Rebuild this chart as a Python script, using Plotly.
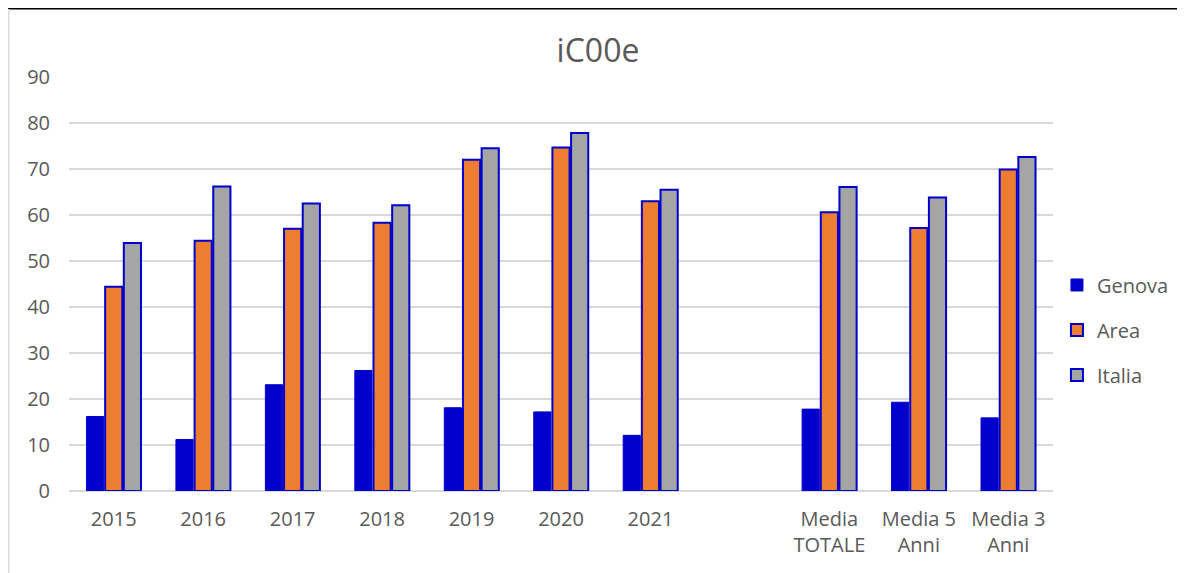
import plotly.graph_objects as go

categories = ["2015", "2016", "2017", "2018", "2019", "2020", "2021", " ",
              "Media<br>TOTALE", "Media 5<br>Anni", "Media 3<br>Anni"]
genova = [16.2, 11.2, 23.1, 26.2, 18.1, 17.2, 12.1, None, 17.8, 19.3, 15.9]
area = [44.4, 54.4, 57.0, 58.3, 72.0, 74.7, 63.0, None, 60.6, 57.2, 69.9]
italia = [53.9, 66.2, 62.5, 62.1, 74.5, 77.8, 65.5, None, 66.1, 63.8, 72.6]
y_ticks = [0, 10, 20, 30, 40, 50, 60, 70, 80, 90]

FONT = "Open Sans"
TXT = "#595959"
BLUE = "#0000CC"

W, H = 1177, 565
L, R, T, B = 61, 131, 69, 82
PW, PH = W - L - R, H - T - B

fig = go.Figure()
fig.add_trace(go.Bar(name="Genova", x=categories, y=genova, legendgroup="g",
                     marker=dict(color=BLUE, line=dict(color=BLUE, width=1))))
fig.add_trace(go.Bar(name="Area", x=categories, y=area, legendgroup="a",
                     marker=dict(color="#ED7D31", line=dict(color=BLUE, width=2))))
fig.add_trace(go.Bar(name="Italia", x=categories, y=italia, legendgroup="i",
                     marker=dict(color="#A5A5A5", line=dict(color=BLUE, width=2))))

fig.update_layout(
    width=W, height=H,
    margin=dict(l=L, r=R, t=T, b=B),
    paper_bgcolor="white", plot_bgcolor="white",
    title=dict(text="iC00e", x=590 / W, xanchor="center", y=1 - 43 / H, yanchor="middle",
               font=dict(family=FONT, size=32, color=TXT)),
    barmode="group", bargap=0.374, bargroupgap=0.08,
    font=dict(family=FONT, size=20, color=TXT),
    legend=dict(x=1.003, xanchor="left", y=0.389, yanchor="middle",
                font=dict(family=FONT, size=20, color=TXT),
                traceorder="grouped", tracegroupgap=16, itemwidth=30),
    xaxis=dict(type="category", showgrid=False, showline=False, ticks="",
               tickfont=dict(family=FONT, size=20, color=TXT), ticklabelstandoff=14),
    yaxis=dict(range=[0, 90], tickvals=y_ticks, showgrid=True, gridcolor="#D9D9D9", gridwidth=1.5,
               zeroline=True, zerolinecolor="#D9D9D9", zerolinewidth=2, showline=False, ticks="",
               tickfont=dict(family=FONT, size=20, color=TXT), ticklabelstandoff=18),
    shapes=[
        dict(type="line", xref="paper", yref="paper", x0=-L / PW, x1=(W - L) / PW,
             y0=1 + (T - 0.75) / PH, y1=1 + (T - 0.75) / PH, line=dict(color="black", width=1.5)),
        dict(type="line", xref="paper", yref="paper", x0=(-L + 0.75) / PW, x1=(-L + 0.75) / PW,
             y0=-B / PH, y1=1 + (T - 1) / PH, line=dict(color="#D9D9D9", width=1.5)),
    ],
)

fig.write_html("out.html")
